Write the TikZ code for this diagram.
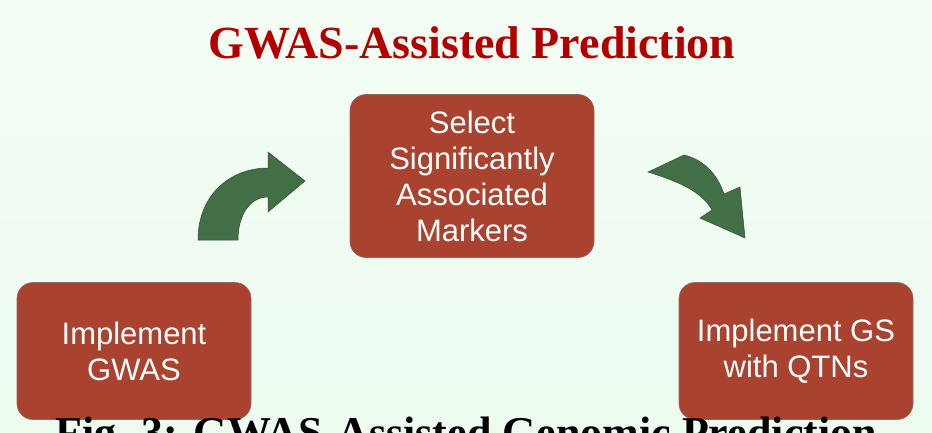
\documentclass[tikz,border=0pt]{standalone}
\usepackage{fontspec}
\setmainfont{Liberation Serif}
\newfontfamily\boxfont{Liberation Sans}
\begin{document}
\begin{tikzpicture}[x=1pt,y=-1pt,
  boxstyle/.style={draw=red!30!black!60,line width=0.6pt,fill=boxred,rounded corners=16pt,text=white,font=\boxfont\fontsize{31}{36}\selectfont,align=center,inner sep=0pt},
  arrowshape/.style={fill=arrgreen,draw=arrgreen!70!black,line width=0.5pt}]
\definecolor{boxred}{HTML}{A9432F}
\definecolor{arrgreen}{HTML}{426F45}
\definecolor{bgmint}{HTML}{EEFCF0}
\useasboundingbox (0,0) rectangle (932,432);
\clip (0,0) rectangle (932,432);
\shade[top color=bgmint!70!white, bottom color=bgmint] (0,0) rectangle (932,432);
\node[text=red!70!black,font=\bfseries\fontsize{46}{52}\selectfont] (title) at (472,43) {GWAS-Assisted Prediction};
\node[boxstyle,minimum width=244pt,minimum height=163pt] (mid) at (472,176) {Select\\Significantly\\Associated\\Markers};
\node[boxstyle,minimum width=234pt,minimum height=137pt] (left) at (134,351) {Implement\\GWAS};
\node[boxstyle,minimum width=234pt,minimum height=137pt] (right) at (796,351) {Implement GS\\with QTNs};
\fill[arrowshape] (198,240) .. controls (198,195) and (230,168) .. (268,168)
  -- (268,152) -- (305,181) -- (268,212) -- (268,197)
  .. controls (250,197) and (238,215) .. (238,240) -- cycle;
\fill[arrowshape] (648,172) -- (684,155) .. controls (705,160) and (718,176) .. (724,194)
  -- (740,187) -- (745,238) -- (700,218) -- (712,210)
  .. controls (702,192) and (680,182) .. (648,172) -- cycle;
\node[font=\bfseries\fontsize{44}{50}\selectfont,anchor=north] (caption) at (466,413) {Fig. 3: GWAS-Assisted Genomic Prediction};
\end{tikzpicture}
\end{document}
